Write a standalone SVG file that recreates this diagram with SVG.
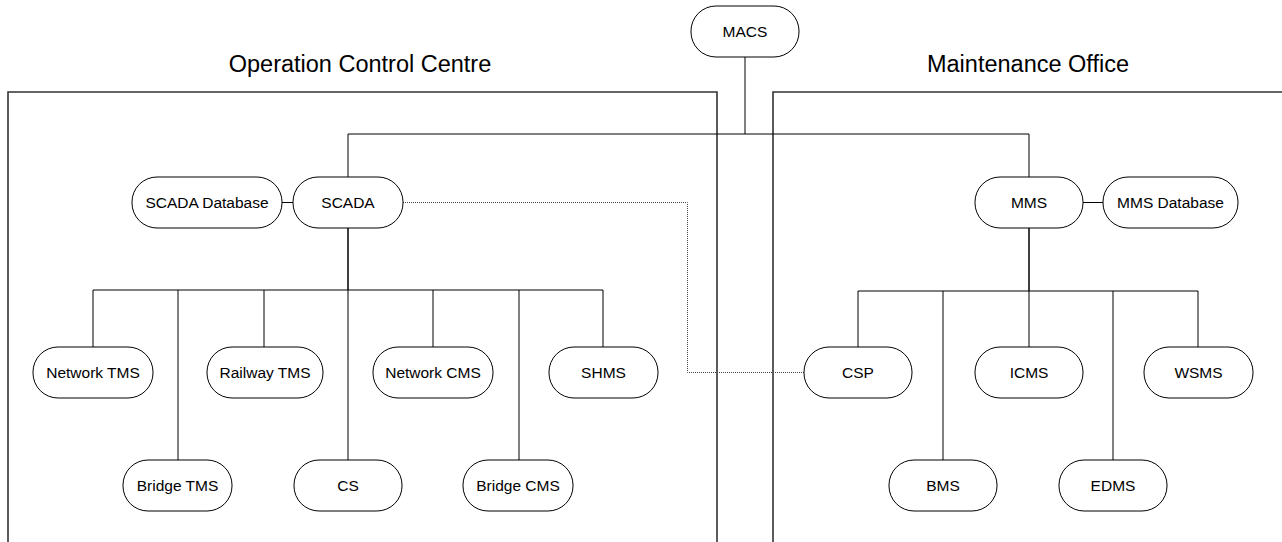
<svg xmlns="http://www.w3.org/2000/svg" width="1282" height="542" viewBox="0 0 1282 542">
<style>
.bg{fill:#fff}
.area{fill:none;stroke:#333;stroke-width:1.6}
.title{font-family:"Liberation Sans",Arial,sans-serif;font-size:23.5px;fill:#000;text-anchor:middle}
.node rect{fill:#fff;stroke:#000;stroke-width:1}
.node text{font-family:"Liberation Sans",Arial,sans-serif;font-size:15.5px;fill:#000;text-anchor:middle}
.conn{fill:none;stroke:#000;stroke-width:1}
.trunk{stroke-width:1.5}
.dot{fill:none;stroke:#444;stroke-width:1;stroke-dasharray:1 1}
</style>
<rect class="bg" x="0" y="0" width="1282" height="542"/>
<g id="areas">
<path class="area" d="M8,545 V92 H717 V545"/>
<path class="area" d="M773,545 V92 H1290"/>
<text class="title" x="360" y="72">Operation Control Centre</text>
<text class="title" x="1028" y="72">Maintenance Office</text>
</g>
<g id="connectors">
<path class="conn" d="M745,57 V134"/>
<path class="conn" d="M348,177 V134 H1029 V177"/>
<path class="conn" d="M282,202.5 H293"/>
<path class="conn" d="M1083,202.5 H1103"/>
<path class="conn trunk" d="M348,228 V290"/>
<path class="conn" d="M93,347 V290 H603 V347"/>
<path class="conn" d="M178,290 V460"/>
<path class="conn" d="M264,290 V347"/>
<path class="conn" d="M348,290 V460"/>
<path class="conn" d="M433,290 V347"/>
<path class="conn" d="M519,290 V460"/>
<path class="conn trunk" d="M1029,228 V291"/>
<path class="conn" d="M858,347 V291 H1198 V347"/>
<path class="conn" d="M943,291 V460"/>
<path class="conn" d="M1029,291 V347"/>
<path class="conn" d="M1113,291 V460"/>
<path class="dot" d="M403,202.5 H687.5 V372.5 H804"/>
</g>
<g id="MACS" class="node"><rect x="691" y="6" width="108" height="51" rx="25" ry="25"/><text x="745" y="37">MACS</text></g>
<g id="SCADA_Database" class="node"><rect x="132" y="177" width="150" height="51" rx="25" ry="25"/><text x="207" y="208">SCADA Database</text></g>
<g id="SCADA" class="node"><rect x="293" y="177" width="110" height="51" rx="25" ry="25"/><text x="348" y="208">SCADA</text></g>
<g id="MMS" class="node"><rect x="975" y="177" width="108" height="51" rx="25" ry="25"/><text x="1029" y="208">MMS</text></g>
<g id="MMS_Database" class="node"><rect x="1103" y="177" width="135" height="51" rx="25" ry="25"/><text x="1170.5" y="208">MMS Database</text></g>
<g id="Network_TMS" class="node"><rect x="33" y="347" width="120" height="51" rx="25" ry="25"/><text x="93" y="378">Network TMS</text></g>
<g id="Railway_TMS" class="node"><rect x="207" y="347" width="116" height="51" rx="25" ry="25"/><text x="265" y="378">Railway TMS</text></g>
<g id="Network_CMS" class="node"><rect x="373" y="347" width="120" height="51" rx="25" ry="25"/><text x="433" y="378">Network CMS</text></g>
<g id="SHMS" class="node"><rect x="549" y="347" width="109" height="51" rx="25" ry="25"/><text x="603.5" y="378">SHMS</text></g>
<g id="CSP" class="node"><rect x="804" y="347" width="108" height="51" rx="25" ry="25"/><text x="858" y="378">CSP</text></g>
<g id="ICMS" class="node"><rect x="975" y="347" width="108" height="51" rx="25" ry="25"/><text x="1029" y="378">ICMS</text></g>
<g id="WSMS" class="node"><rect x="1144" y="347" width="109" height="51" rx="25" ry="25"/><text x="1198.5" y="378">WSMS</text></g>
<g id="Bridge_TMS" class="node"><rect x="123" y="460" width="109" height="51" rx="25" ry="25"/><text x="177.5" y="491">Bridge TMS</text></g>
<g id="CS" class="node"><rect x="294" y="460" width="108" height="51" rx="25" ry="25"/><text x="348" y="491">CS</text></g>
<g id="Bridge_CMS" class="node"><rect x="463" y="460" width="110" height="51" rx="25" ry="25"/><text x="518" y="491">Bridge CMS</text></g>
<g id="BMS" class="node"><rect x="889" y="460" width="108" height="51" rx="25" ry="25"/><text x="943" y="491">BMS</text></g>
<g id="EDMS" class="node"><rect x="1059" y="460" width="108" height="51" rx="25" ry="25"/><text x="1113" y="491">EDMS</text></g>
</svg>
